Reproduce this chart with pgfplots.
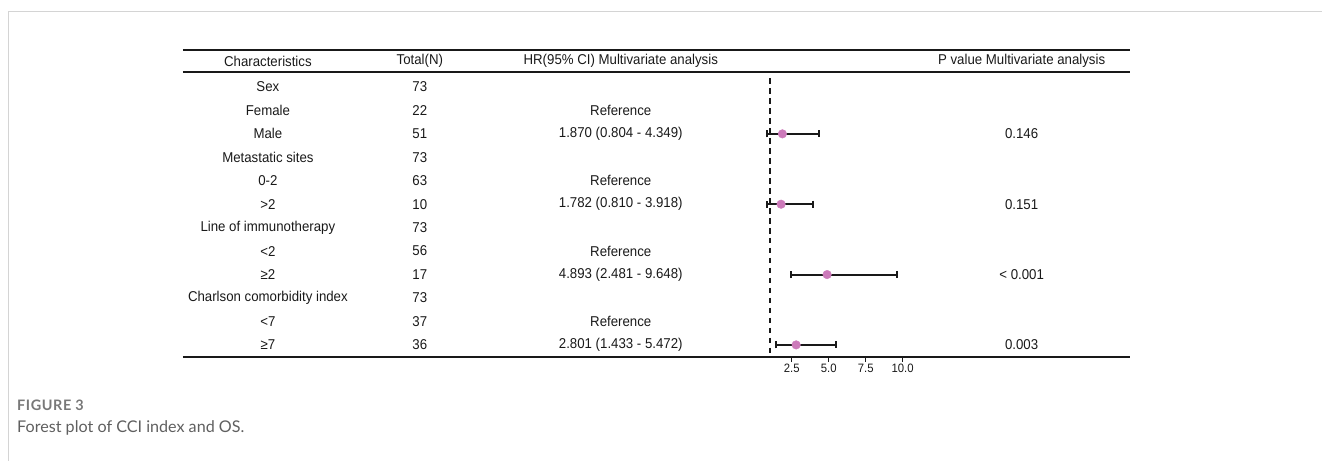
\documentclass[border=0pt]{standalone}
\usepackage{pgfplots}
\pgfplotsset{compat=1.18}
\usepackage{pgfplotstable}
\usepackage{fontspec}
\setmainfont[FakeStretch=0.93]{Liberation Sans}
\newfontfamily\capfont{Lato}
\newfontfamily\capfontsp[LetterSpace=4]{Lato}
\definecolor{pt}{RGB}{204,122,186}
\definecolor{framec}{RGB}{212,212,212}
\definecolor{capgray}{RGB}{95,95,95}
\definecolor{figgray}{RGB}{120,120,120}
\definecolor{ink}{RGB}{25,25,25}

\pgfplotstableread{
row hr lo hi
3 1.870 0.804 4.349
6 1.782 0.810 3.918
9 4.893 2.481 9.648
12 2.801 1.433 5.472
}\hrdata

\newcommand\tf{\fontsize{14.3}{16}\selectfont}

\begin{document}
\begin{tikzpicture}[x=1bp,y=1bp]
\path (0,0) rectangle (1322,461);
\draw[framec, line width=1bp] (9,0) -- (9,449) -- (1322,449);
\draw[line width=1.8bp, ink] (183,411) -- (1130,411);
\draw[line width=1.8bp, ink] (183,389) -- (1130,389);
\begin{axis}[
  at={(183bp,104bp)}, anchor=south west,
  scale only axis, width=947bp, height=285bp,
  xmin=-38.65, xmax=25.34, ymin=-12.51, ymax=-0.36,
  axis x line*=bottom, axis y line=none,
  axis line style={-, line width=1.8bp, ink},
  xtick={2.5,5,7.5,10},
  tick align=outside, major tick length=5bp,
  tick style={line width=1.4bp, ink},
  xticklabel style={font=\fontsize{12.2}{13}\selectfont, text=ink, inner sep=1.5bp, text height=8.6bp, text depth=0bp, anchor=north, /pgf/number format/.cd, fixed, fixed zerofill, precision=1, assume math mode=true},
  clip=false,
]
\addplot[ink, line width=2bp, dash pattern=on 5.5bp off 4.5bp] coordinates {(1,-0.62) (1,-12.51)};
\addplot[only marks, mark=*, mark size=4.3bp, mark options={fill=pt, draw=pt},
  error bars/.cd, x dir=both, x explicit,
  error bar style={ink, line width=2bp},
  error mark options={ink, mark size=3.6bp, line width=2bp, rotate=90}]
  table[x=hr, y expr=-\thisrow{row}, x error plus expr=\thisrow{hi}-\thisrow{hr}, x error minus expr=\thisrow{hr}-\thisrow{lo}] {\hrdata};
\end{axis}
% header
\begin{scope}[every node/.style={font=\tf, text=ink, inner sep=0pt}]
\node at (268,400) {Characteristics};
\node at (420,400) {Total(N)};
\node at (621,400) {HR(95\% CI) Multivariate analysis};
\node at (1022,400) {P value Multivariate analysis};
% rows
\foreach \i/\c/\n/\h/\p in {
  1/Sex/73//,
  2/Female/22/Reference/,
  3/Male/51/1.870 (0.804 - 4.349)/0.146,
  4/Metastatic sites/73//,
  5/0-2/63/Reference/,
  6/>2/10/1.782 (0.810 - 3.918)/0.151,
  7/Line of immunotherapy/73//,
  8/<2/56/Reference/,
  9/≥2/17/4.893 (2.481 - 9.648)/< 0.001,
  10/Charlson comorbidity index/73//,
  11/<7/37/Reference/,
  12/≥7/36/2.801 (1.433 - 5.472)/0.003}{
  \node at (268,{374-(\i-1)*23.45}) {\c};
  \node at (420,{374-(\i-1)*23.45}) {\n};
  \node at (621,{374-(\i-1)*23.45}) {\h};
  \node at (1022,{374-(\i-1)*23.45}) {\p};
}
\end{scope}
% caption
\node[anchor=west, inner sep=0pt, font=\capfontsp\bfseries\fontsize{14.5}{16}\selectfont, text=figgray] at (17,56) {FIGURE 3};
\node[anchor=west, inner sep=0pt, font=\capfont\fontsize{16.2}{19}\selectfont, text=capgray] at (17,33) {Forest plot of CCI index and OS.};
\end{tikzpicture}
\end{document}
